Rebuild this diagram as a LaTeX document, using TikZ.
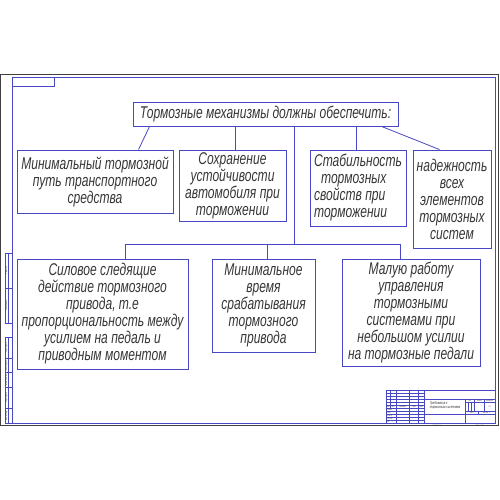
\documentclass[tikz,border=0pt]{standalone}
\usepackage{fontspec}
\setmainfont{Liberation Sans}[FakeStretch=0.71]
\definecolor{linec}{RGB}{72,72,196}
\definecolor{textc}{RGB}{55,55,55}
\tikzset{
  box/.style={draw=linec, line width=0.9pt, inner sep=2pt, align=center, text=textc,
    font=\itshape\fontsize{17}{17}\selectfont},
  conn/.style={draw=linec, line width=0.8pt},
  thinl/.style={draw=linec, line width=0.45pt},
  tiny/.style={inner sep=0pt, text=textc, font=\fontsize{2.2}{2.4}\selectfont},
  small/.style={inner sep=0pt, text=textc, font=\itshape\fontsize{4}{4.6}\selectfont, align=left}
}
\begin{document}
\begin{tikzpicture}[x=1pt,y=-1pt]
\useasboundingbox (0,0) rectangle (500,500);
\fill[white] (0,0) rectangle (500,500);
% sheet frames
\draw[black!75, line width=0.8pt] (0.5,74) rectangle (498,425);
\draw[linec, line width=0.9pt] (12,77) rectangle (495,423);
\draw[thinl, line width=0.7pt] (12,86) -- (54,86) -- (54,77);
% left strip
\draw[thinl, line width=0.7pt] (12,253) -- (5,253) -- (5,323) -- (12,323);
\draw[thinl] (5,288) -- (12,288);
\draw[thinl] (8,253) -- (8,323);
\draw[thinl, line width=0.7pt] (12,337) -- (5,337) -- (5,423) -- (12,423);
\draw[thinl] (8,337) -- (8,423);
\foreach \yy in {358,372.7,387.5,408.2} \draw[thinl] (5,\yy) -- (12,\yy);
\node[tiny, rotate=90] (s1) at (6.5,270.5) {Справ. №};
\node[tiny, rotate=90] (s2) at (6.5,305.5) {Перв. примен.};
\node[tiny, rotate=90] (s3) at (6.5,347.5) {Подп. и дата};
\node[tiny, rotate=90] (s4) at (6.5,365.3) {Инв. № дубл.};
\node[tiny, rotate=90] (s5) at (6.5,380.1) {Взам. инв. №};
\node[tiny, rotate=90] (s6) at (6.5,397.8) {Подп. и дата};
\node[tiny, rotate=90] (s7) at (6.5,415.6) {Инв. № подл.};
% title block
\begin{scope}
\draw[linec, line width=0.8pt] (386,390.5) -- (495,390.5);
\draw[linec, line width=0.8pt] (386,390.5) -- (386,423);
\foreach \k in {1,...,10} \draw[thinl] (386,390.5+\k*2.95) -- (424.3,390.5+\k*2.95);
\draw[thinl] (390.1,390.5) -- (390.1,408.2);
\foreach \xx in {396,409.6,418.4} \draw[thinl] (\xx,390.5) -- (\xx,423);
\draw[linec, line width=0.8pt] (424.3,390.5) -- (424.3,423);
\draw[thinl] (424.3,399.4) -- (495,399.4);
\draw[thinl] (424.3,414.1) -- (495,414.1);
\draw[thinl] (465.6,399.4) -- (465.6,423);
\draw[thinl] (465.6,402.4) -- (495,402.4);
\draw[thinl] (465.6,411.2) -- (495,411.2);
\foreach \xx in {468.6,471.5} \draw[thinl] (\xx,402.4) -- (\xx,411.2);
\foreach \xx in {474.5,484.5} \draw[thinl] (\xx,399.4) -- (\xx,411.2);
\draw[thinl] (478,411.2) -- (478,414.1);
\node[tiny] (i1) at (388,406.7) {Изм.};
\node[tiny] (i2) at (393,406.7) {Лист};
\node[tiny] (i3) at (402.8,406.7) {№ докум.};
\node[tiny] (i4) at (414,406.7) {Подп.};
\node[tiny] (i5) at (421.3,406.7) {Дата};
\node[tiny, anchor=west] (r1) at (386.5,409.7) {Разраб.};
\node[tiny, anchor=west] (r2) at (386.5,412.6) {Пров.};
\node[tiny, anchor=west] (r3) at (386.5,415.6) {Т.контр.};
\node[tiny, anchor=west] (r4) at (386.5,418.5) {Н.контр.};
\node[tiny, anchor=west] (r5) at (386.5,421.5) {Утв.};
\node[tiny] (l1) at (470,400.9) {Лит.};
\node[tiny] (l2) at (479.5,400.9) {Масса};
\node[tiny] (l3) at (489.7,400.9) {Масштаб};
\node[tiny] (l4) at (489.7,406.8) {1:1};
\node[tiny] (l5) at (471.8,412.6) {Лист};
\node[tiny] (l6) at (486.5,412.6) {Листов \ 1};
\node[small] (tbn) at (445,405.5) {Требования к\\тормозным системам};
\node[tiny] (cp) at (437,425.8) {Копировал};
\node[tiny] (fm) at (480,425.8) {Формат A3};
\end{scope}
% main boxes
\node[box, minimum width=265pt, minimum height=24pt] (title) at (265.5,114)
  {Тормозные механизмы должны обеспечить:};
\node[box, minimum width=156pt, minimum height=63pt] (b1) at (95,181.5)
  {Минимальный тормозной\\путь транспортного\\средства};
\node[box, minimum width=107pt, minimum height=71pt] (b2) at (232.5,185.5)
  {Сохранение\\устойчивости\\автомобиля при\\торможении};
\node[box, minimum width=96pt, minimum height=76pt, align=left] (b3) at (358,188)
  {Стабильность\\\hspace*{7pt}тормозных\\свойств при\\торможении};
\node[box, minimum width=78pt, minimum height=98pt] (b4) at (452,199)
  {надежность\\всех\\элементов\\тормозных\\систем};
\node[box, minimum width=171pt, minimum height=110pt] (bA) at (102.5,314)
  {Силовое следящие\\действие тормозного\\привода, т.е\\пропорциональность между\\усилием на педаль и\\приводным моментом};
\node[box, minimum width=103pt, minimum height=93pt] (bB) at (263.5,305.5)
  {Минимальное\\время\\срабатывания\\тормозного\\привода};
\node[box, minimum width=138pt, minimum height=107pt] (bC) at (411,312.5)
  {Малую работу\\управления\\тормозными\\системами при\\небольшом усилии\\на тормозные педали};
% connectors
\draw[conn] ([xshift=17pt]title.south west) -- ([xshift=122pt]b1.north west);
\draw[conn] ([xshift=103pt]title.south west) coordinate (t2) -- (t2 |- b2.north);
\draw[conn] ([xshift=224pt]title.south west) coordinate (t3) -- (t3 |- b3.north);
\draw[conn] ([xshift=249pt]title.south west) -- ([xshift=27pt]b4.north west);
\coordinate (bus) at (294,245);
\draw[conn] (title.south -| bus) -- (bus);
\draw[conn] ([xshift=109pt]bA.north west) -- ++(0,-14) -| ([xshift=59pt]bC.north west);
\draw[conn] ([xshift=56pt]bB.north west) -- ++(0,-14);
\end{tikzpicture}
\end{document}
